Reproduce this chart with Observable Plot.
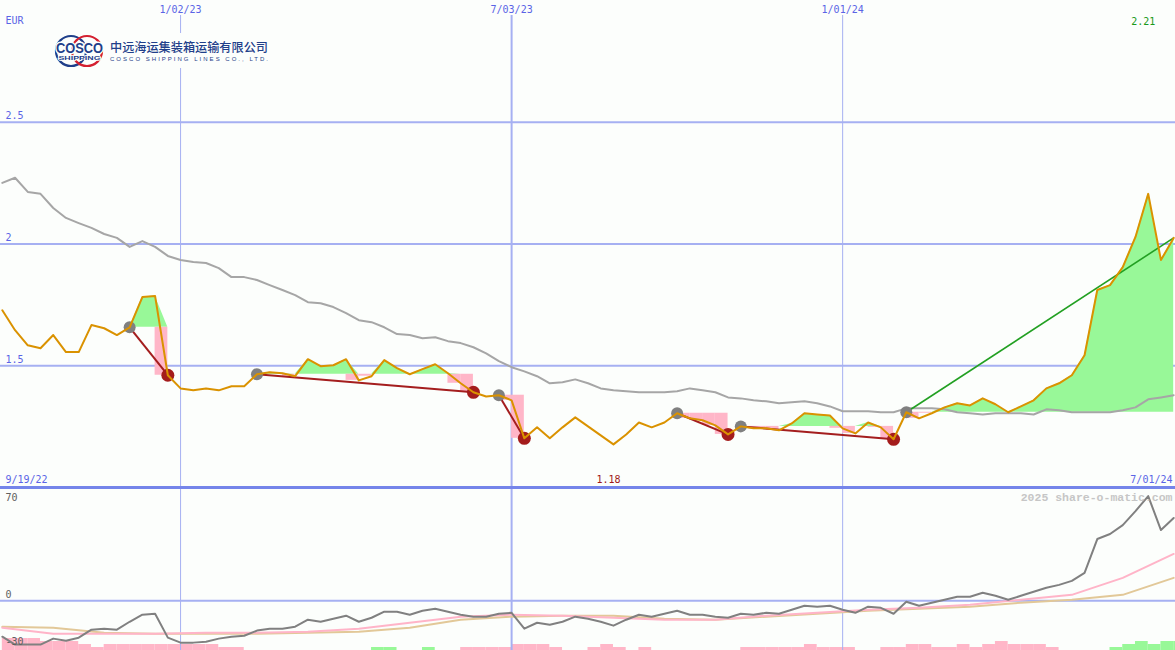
<!DOCTYPE html>
<html><head><meta charset="utf-8">
<script src="https://cdn.jsdelivr.net/npm/d3@7"></script>
<script src="https://cdn.jsdelivr.net/npm/@observablehq/plot@0.6"></script>
<style>
html,body{margin:0;padding:0;background:#fcfefc;}
#chart{position:relative;width:1175px;height:650px;overflow:hidden;background:#fcfefc;}
#chart > svg{position:absolute;left:0;}
</style></head><body><div id="chart"></div>
<script>
// ---- data (weekly, first week 2022-09-26) ----
const firstWeek = "2022-09-26";
const price = [
  1.728,1.646,1.584,1.572,1.626,1.556,1.556,1.667,1.654,1.626,
  1.658,1.782,1.786,1.461,1.407,1.399,1.407,1.399,1.416,1.416,
  1.465,1.473,1.469,1.457,1.527,1.498,1.502,1.527,1.440,1.457,
  1.523,1.490,1.465,1.486,1.506,1.469,1.428,1.391,1.374,1.379,
  1.358,1.202,1.247,1.202,1.247,1.288,1.251,1.214,1.177,1.218,
  1.267,1.247,1.267,1.305,1.284,1.276,1.255,1.218,1.251,1.243,
  1.243,1.235,1.263,1.305,1.300,1.296,1.243,1.222,1.267,1.247,
  1.198,1.309,1.284,1.305,1.329,1.346,1.337,1.366,1.342,1.309,
  1.333,1.358,1.407,1.428,1.461,1.543,1.811,1.831,1.905,2.029,
  2.206,1.934,2.025];
const movingAvg = [
  2.251,2.272,2.214,2.206,2.148,2.107,2.086,2.066,2.041,2.025,
  1.988,2.012,1.988,1.951,1.934,1.926,1.922,1.901,1.864,1.864,
  1.852,1.831,1.811,1.790,1.761,1.757,1.741,1.716,1.687,1.679,
  1.658,1.630,1.626,1.613,1.617,1.601,1.593,1.576,1.551,1.519,
  1.494,1.477,1.457,1.428,1.432,1.444,1.428,1.407,1.399,1.395,
  1.391,1.391,1.391,1.395,1.407,1.399,1.391,1.370,1.366,1.358,
  1.354,1.346,1.350,1.354,1.346,1.333,1.313,1.313,1.313,1.309,
  1.309,1.325,1.325,1.325,1.321,1.309,1.305,1.300,1.305,1.305,
  1.305,1.300,1.321,1.317,1.309,1.309,1.309,1.309,1.317,1.329,
  1.362,1.370,1.379];
const oscillator = [
  -26,-31.7,-31.7,-31.7,-27.4,-28.9,-26.7,-20.9,-20.2,-20.9,
  -15.2,-10.1,-9.4,-26.7,-30.3,-30.3,-29.6,-27.4,-26,-25.3,
  -21.6,-20.2,-20.2,-18.8,-13.7,-15.2,-13,-10.8,-15.2,-12.3,
  -7.9,-7.9,-10.1,-7.2,-5.8,-7.9,-10.1,-11.5,-11.5,-9.4,
  -8.7,-20.2,-15.9,-17.3,-15.2,-11.5,-13,-15.2,-18,-13.7,
  -10.1,-11.5,-9.4,-7.2,-10.1,-10.1,-11.5,-12.3,-9.4,-10.1,
  -8.7,-9.4,-6.5,-3.6,-4.3,-3.6,-6.5,-8.7,-4.3,-5.1,
  -9.4,-0.7,-3.6,-1.4,0.7,2.9,2.9,5.8,3.6,0.7,
  3.6,6.5,9.4,11.5,14.4,20.2,44.7,48.3,54.8,64.9,
  75.8,51.2,59.9];
const histogram = [
  -4,-4,-4,-3,-3,-3,-2,-1,-2,-2,
  -2,-2,-2,-2,-2,-2,-2,-1,-1,0,
  0,0,0,0,0,0,0,0,0,1,
  1,0,0,1,0,0,-1,-1,-1,-1,
  -2,-2,-2,-1,0,0,-1,-2,-1,0,
  -1,0,0,0,0,0,0,0,-1,-1,
  -1,-1,-1,-2,-1,-1,-1,0,0,-1,
  -1,-2,-2,-1,-1,-2,-1,-2,-3,-2,
  -2,-2,-1,0,0,0,0,1,2,3,
  2,3,3];
// smoothed averages of the oscillator, read every 4th week
const avgStep = 4;
const pinkAvg = [-19.5,-23.8,-23.8,-23.8,-23.1,-23.1,-22.4,-20.2,-15.9,-11.5,-10.1,-10.8,-12.3,-13.7,-13.7,-10.8,-8.7,-6.5,-5.1,-2.9,0.7,4.3,16.6,33.9];
const tanAvg  = [-18.8,-19.5,-23.1,-23.8,-23.8,-23.8,-23.1,-22.4,-19.5,-13.7,-11.5,-10.8,-10.8,-13,-13.7,-11.5,-9.4,-7.2,-5.8,-4.3,-1.4,0.7,4.3,16.6];
// signals
const signalStart = ["2022-12-05","2023-02-13","2023-06-26","2023-10-02","2023-11-06","2024-02-05"];
const signalEnd   = ["2022-12-26","2023-06-12","2023-07-10","2023-10-30","2024-01-29","2024-07-01"];
const signalKind  = ["sell","sell","sell","sell","sell","buy"];
// ticks & labels
const yTicksMain = [1.5, 2, 2.5];
const dateTicks = ["2023-01-02","2023-07-03","2024-01-01"];
const dateTickLabels = ["1/02/23","7/03/23","1/01/24"];
const lowerTicks = [70, 0, -30];
const currency = "EUR";
const rangeStartLabel = "9/19/22", rangeEndLabel = "7/01/24";
const lowLabel = "1.18", highLabel = "2.21";
const watermark = "2025 share-o-matic.com";

// ---- derived tables ----
const weeks = price.map((_, i) => d3.utcDay.offset(new Date(firstWeek), 7 * i));
const rows = weeks.map((date, i) => ({date, price: price[i], ma: movingAvg[i], osc: oscillator[i], hist: histogram[i], next: d3.utcDay.offset(date, 7)}));
const avgRows = pinkAvg.map((p, j) => ({date: weeks[j * avgStep], pink: p, tan: tanAvg[j]}));
const idx = s => weeks.findIndex(d => +d === +new Date(s));
const segments = signalStart.map((s, j) => {
  const a = idx(s), b = idx(signalEnd[j]);
  return {a, b, kind: signalKind[j], x1: weeks[a], y1: price[a], x2: weeks[b], y2: price[b], level: price[a]};
});
const greenData = segments.flatMap((g, j) => d3.range(g.a, g.b + 1).map(k => ({x: weeks[k], y1: g.level, y2: Math.max(price[k], g.level), seg: j})));
const pinkData = segments.flatMap(g => d3.range(g.a + 1, g.b + 1).filter(k => price[k] < g.level).map(k => ({x1: weeks[k - 1], x2: weeks[k], y1: g.level, y2: price[k]})));
const lowIdx = d3.minIndex(price), highIdx = d3.maxIndex(price);
const tickDates = dateTicks.map(d => new Date(d));

// ---- styles ----
const W = 1175;
const xDomain = [new Date("2022-09-25"), new Date("2024-07-02")];
const gridBlue = "#a6b0f2", labelBlue = "#5a64e6", mono = "DejaVu Sans Mono";
const txt = {fontFamily: mono, fontSize: 10, fill: labelBlue, lineAnchor: "middle"};

const chart = document.getElementById("chart");

// histogram strip
const hist = Plot.plot({
  width: W, height: 12, margin: 0,
  style: {background: "transparent"},
  x: {type: "utc", domain: xDomain, axis: null},
  y: {domain: [0, 4], axis: null},
  marks: [
    Plot.rectY(rows.filter(r => r.hist !== 0), {x1: "date", x2: "next", y1: 0, y2: r => Math.abs(r.hist), fill: r => r.hist > 0 ? "#98f898" : "#ffb6c8"})
  ]
});
hist.style.top = "638px";
chart.appendChild(hist);

// lower oscillator panel
const lower = Plot.plot({
  width: W, height: 163, margin: 0,
  style: {background: "transparent"},
  x: {type: "utc", domain: xDomain, axis: null},
  y: {domain: [-36, 82], axis: null},
  marks: [
    Plot.ruleX([tickDates[0], tickDates[2]], {stroke: gridBlue, strokeWidth: 1}),
    Plot.ruleX([tickDates[1]], {stroke: gridBlue, strokeWidth: 2}),
    Plot.ruleY([0], {stroke: gridBlue, strokeWidth: 2}),
    Plot.line(avgRows, {x: "date", y: "tan", stroke: "#e2c898", strokeWidth: 2}),
    Plot.line(avgRows, {x: "date", y: "pink", stroke: "#ffb4c8", strokeWidth: 2}),
    Plot.line(rows, {x: "date", y: "osc", stroke: "#808080", strokeWidth: 2}),
    Plot.text([lowerTicks[0]], {y: d => d, text: d => String(d), frameAnchor: "left", dx: 5, dy: -6.5, textAnchor: "start", ...txt, fill: "#606060"}),
    Plot.text([lowerTicks[1]], {y: d => d, text: d => String(d), frameAnchor: "left", dx: 5, dy: -6, textAnchor: "start", ...txt, fill: "#606060"}),
    Plot.text([lowerTicks[2]], {y: d => d, text: d => String(d), frameAnchor: "left", dx: 5, dy: 0, textAnchor: "start", ...txt, fill: "#606060"}),
    Plot.text([watermark], {frameAnchor: "top-right", dx: -3, dy: 10, textAnchor: "end", lineAnchor: "middle", fontFamily: "Liberation Mono", fontWeight: "bold", fontSize: 11.5, fill: "#c6c6c6"})
  ]
});
lower.style.top = "487px";
chart.appendChild(lower);

// main price panel
const main = Plot.plot({
  width: W, height: 489, marginTop: 0, marginBottom: 2, marginLeft: 0, marginRight: 0,
  style: {background: "transparent"},
  x: {type: "utc", domain: xDomain, axis: null},
  y: {domain: [1, 3], axis: null},
  marks: [
    Plot.ruleY(yTicksMain, {stroke: gridBlue, strokeWidth: 2}),
    Plot.ruleX([tickDates[0], tickDates[2]], {stroke: gridBlue, strokeWidth: 1, insetTop: 15}),
    Plot.ruleX([tickDates[1]], {stroke: gridBlue, strokeWidth: 2, insetTop: 15}),
    Plot.areaY(greenData, {x: "x", y1: "y1", y2: "y2", z: "seg", fill: "#98f898"}),
    Plot.rect(pinkData, {x1: "x1", x2: "x2", y1: "y1", y2: "y2", fill: "#ffb6c8"}),
    Plot.line(rows, {x: "date", y: "ma", stroke: "#a6a6a6", strokeWidth: 2}),
    Plot.link(segments.filter(s => s.kind === "sell"), {x1: "x1", y1: "y1", x2: "x2", y2: "y2", stroke: "#a41e1e", strokeWidth: 2}),
    Plot.link(segments.filter(s => s.kind === "buy"), {x1: "x1", y1: "y1", x2: "x2", y2: "y2", stroke: "#22a022", strokeWidth: 1.6}),
    Plot.dot(segments, {x: "x1", y: "y1", r: 6, fill: "#808080"}),
    Plot.dot(segments.filter(s => s.kind === "sell"), {x: "x2", y: "y2", r: 6.5, fill: "#a41c1c"}),
    Plot.line(rows, {x: "date", y: "price", stroke: "#da9200", strokeWidth: 2}),
    Plot.ruleY([1], {stroke: "#7585ea", strokeWidth: 3}),
    // labels
    Plot.text(yTicksMain, {y: d => d, text: d => String(d), frameAnchor: "left", dx: 5, dy: -6, textAnchor: "start", ...txt}),
    Plot.text([currency], {frameAnchor: "top-left", dx: 5, dy: 20, textAnchor: "start", ...txt}),
    Plot.text(tickDates, {x: d => d, text: (d, i) => dateTickLabels[i], frameAnchor: "top", dy: 9, ...txt}),
    Plot.text([rangeStartLabel], {frameAnchor: "bottom-left", dx: 5, dy: -8, textAnchor: "start", ...txt}),
    Plot.text([rangeEndLabel], {frameAnchor: "bottom-right", dx: -3, dy: -8, textAnchor: "end", ...txt}),
    Plot.text([lowLabel], {x: () => weeks[lowIdx], text: d => d, frameAnchor: "bottom", dx: -5, dy: -8, ...txt, fill: "#a01818"}),
    Plot.text([highLabel], {x: () => weeks[highIdx], text: d => d, frameAnchor: "top", dx: -5, dy: 21, ...txt, fill: "#1a9a1a"})
  ]
});
main.style.top = "0px";
chart.appendChild(main);

// logo
const ns = "http://www.w3.org/2000/svg";
const logo = document.createElementNS(ns, "svg");
logo.setAttribute("width", "290"); logo.setAttribute("height", "80");
logo.style.top = "0px";
logo.innerHTML = `
  <rect x="52" y="33" width="220" height="35" fill="#fcfefc"/>
  <circle cx="71" cy="51" r="15" fill="none" stroke="#1f3f8a" stroke-width="2.2"/>
  <circle cx="87" cy="51" r="15" fill="none" stroke="#d42030" stroke-width="2.2"/>
  <text x="79.5" y="53" text-anchor="middle" font-family="Liberation Sans" font-weight="bold" font-size="14" fill="#1f3f8a" stroke="#fcfefc" stroke-width="3" paint-order="stroke" textLength="47" lengthAdjust="spacingAndGlyphs">COSCO</text>
  <text x="79.5" y="59.5" text-anchor="middle" font-family="Liberation Sans" font-weight="bold" font-size="6" fill="#1f3f8a" stroke="#fcfefc" stroke-width="1.5" paint-order="stroke" textLength="42" lengthAdjust="spacingAndGlyphs">SHIPPING</text>
  <text x="110" y="52" font-family="Noto Sans CJK SC" font-weight="500" font-size="12.5" fill="#1f3f8a" textLength="158" lengthAdjust="spacingAndGlyphs">中远海运集装箱运输有限公司</text>
  <text x="110" y="61" font-family="Liberation Sans" font-size="6" fill="#1f3f8a" textLength="158" lengthAdjust="spacing">COSCO SHIPPING LINES CO., LTD.</text>`;
chart.appendChild(logo);
</script></body></html>
